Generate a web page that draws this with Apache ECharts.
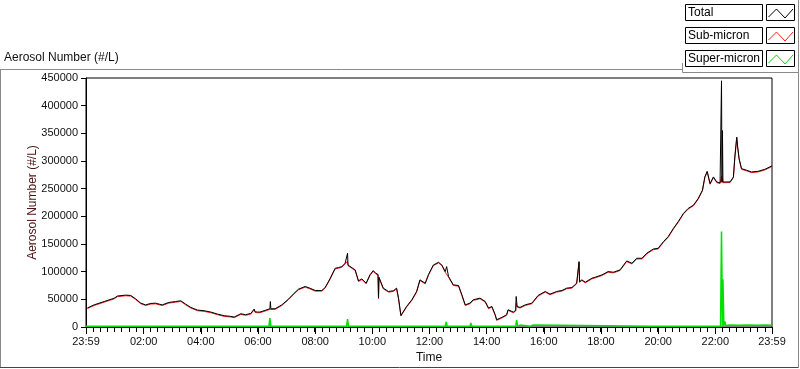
<!DOCTYPE html>
<html><head><meta charset="utf-8">
<script src="https://cdn.jsdelivr.net/npm/echarts@6/dist/echarts.min.js"></script>
<style>html,body{margin:0;padding:0;background:#fff}#c{width:800px;height:369px}</style>
</head><body><div id="c"></div>
<script>
// minutes since 23:59 (start of record)
const seriesNames = ['Total', 'Sub-micron', 'Super-micron'];
const yTicks = [0,50000,100000,150000,200000,250000,300000,350000,400000,450000];
const xMajorTicks = [0,121,241,361,481,601,721,841,961,1081,1201,1321,1440];
const xMajorLabels = ['23:59','02:00','04:00','06:00','08:00','10:00','12:00','14:00','16:00','18:00','20:00','22:00','23:59'];

const totalTime = [3,17,38,59,66,83,94,104,115,125,136,146,160,174,188,199,209,220,234,248,262,276,290,304,311,325,335,346,353,355,360,365,376,386,387,388,397,411,425,435,446,460,470,481,495,502,512,523,530,537,544,548,549,550,554,565,572,579,588,596,603,608,613,614,615,617,624,635,645,652,656,661,663,673,684,694,701,712,719,729,740,747,754,757,761,771,782,789,796,806,813,827,838,845,852,859,862,873,883,886,897,902,903,905,911,922,936,949,964,974,988,999,1009,1020,1030,1034,1035,1036,1041,1048,1062,1069,1083,1096,1107,1121,1135,1146,1156,1167,1177,1191,1201,1212,1222,1233,1243,1254,1264,1275,1285,1294,1299,1304,1310,1317,1324,1331,1333,1334,1335,1336,1337,1341,1352,1359,1362,1366,1368,1371,1376,1387,1397,1411,1425,1438,1440];
const totalVals = [34500,40000,46000,52000,56000,57600,57000,51000,43200,40000,42600,43000,40000,44400,46000,47400,41400,35400,30600,29400,27000,23400,20400,19200,18000,24000,22200,24600,32400,27500,27000,27000,30000,33000,46000,33000,33000,40000,50400,59400,68400,73200,70200,66000,66000,71400,87000,106200,107400,109200,115200,112000,133200,112000,112000,103200,83400,87000,79200,94200,102000,97200,95000,52200,90000,88200,70200,64200,65400,70200,52200,21000,22200,37200,49200,64200,85200,79200,95000,112000,117000,112000,100200,109200,91200,76200,75000,58200,40000,43200,49200,52200,46200,34200,37200,22200,13200,17400,22200,31200,27000,30000,55200,37200,35400,40000,43200,57000,64200,59400,64200,66000,70200,71400,79200,80000,118200,82000,85200,81000,88200,90000,94200,100200,99000,103200,119400,115200,124200,124200,133200,141000,142200,154200,163200,178200,190200,205200,214200,220200,232200,247200,271200,281400,259200,271200,262200,260400,262000,445000,262000,355000,262000,260400,262200,271200,307200,343200,325000,304200,286200,283200,280200,281400,285000,290400,291000];
const subVals = [33300,38800,44800,50800,54800,56400,55800,49800,42000,38800,41400,41800,38800,43200,44800,46200,40200,34200,29400,28200,25800,22200,19200,18000,16800,22800,21000,23400,31200,26300,25800,25800,28800,31800,30000,31800,31800,38800,49200,58200,67200,72000,69000,64800,64800,70200,85800,105000,106200,108000,114000,110800,118800,110800,110800,102000,82200,85800,78000,93000,100800,96000,93800,51000,88800,87000,69000,63000,64200,69000,51000,19800,21000,36000,48000,63000,84000,78000,93800,110800,115800,110800,99000,100200,90000,75000,73800,57000,38800,42000,48000,51000,45000,33000,36000,21000,12000,16200,21000,30000,25800,28800,42600,36000,34200,38800,42000,55800,63000,58200,63000,64800,69000,70200,78000,78800,117000,80800,84000,79800,87000,88800,93000,99000,97800,102000,118200,114000,123000,123000,132000,139800,141000,153000,162000,177000,189000,204000,213000,219000,231000,246000,270000,280200,258000,270000,261000,259200,260800,272200,260800,268600,260800,259200,261000,270000,306000,342000,323800,303000,285000,282000,279000,280200,283800,289200,289800];

const superTime = [0,384,386,388,523,525,527,547,549,551,553,554,555,754,756,758,806,808,810,854,855,856,863,864,865,893,894,895,902,904,906,910,911,912,933,934,935,937,938,939,1190,1191,1192,1239,1240,1241,1314,1315,1316,1332,1334,1336,1337,1339,1341,1343,1350,1370,1390,1410,1425,1440];
const superVals = [1500,1500,16200,1500,1500,5000,1500,1500,14400,1500,1500,3000,1500,1500,9000,1500,1500,7200,1500,1500,4000,1500,1500,4500,1500,1500,3000,1500,1500,12600,1500,1500,3500,1500,1500,3500,1500,1500,3500,1500,1500,3000,1500,1500,3000,1500,1500,3000,1500,1500,172800,2000,86400,2000,10000,2500,3500,3000,3500,3000,3500,3000];

const colors = ['#000000', '#ff2020', '#00e000'];

function pairs(t, v) { return t.map((x, i) => [x, v[i]]); }

const chart = echarts.init(document.getElementById('c'), null, {renderer: 'canvas'});
const font = 'Liberation Sans, Arial, sans-serif';

function legendGraphics() {
  const g = [];
  const rows = [4, 27, 50];
  seriesNames.forEach((name, i) => {
    const y = rows[i];
    g.push({type: 'rect', shape: {x: 685.5, y: y + 0.5, width: 77, height: 16}, style: {fill: '#fff', stroke: '#000', lineWidth: 1}});
    g.push({type: 'text', x: 688, y: y + 9, style: {text: name, font: '12px ' + font, fill: '#000', textVerticalAlign: 'middle'}});
    g.push({type: 'rect', shape: {x: 766.5, y: y + 0.5, width: 28, height: 16}, style: {fill: '#fff', stroke: '#000', lineWidth: 1}});
    g.push({type: 'polyline', shape: {points: [[768.5, y + 13], [776.5, y + 5], [785, y + 14], [793, y + 5]]}, style: {stroke: colors[i], lineWidth: 1, fill: null}});
  });
  return g;
}

const option = {
  animation: false,
  backgroundColor: '#fff',
  textStyle: {fontFamily: font},
  grid: {left: 86, right: 28, top: 78, bottom: 40, show: true, borderColor: '#000', borderWidth: 1, backgroundColor: '#fff'},
  xAxis: [{
    type: 'value', min: 0, max: 1440,
    name: 'Time', nameLocation: 'middle', nameGap: 25,
    nameTextStyle: {fontSize: 12, color: '#111', fontFamily: font},
    axisLine: {show: true, lineStyle: {color: '#000', width: 1}},
    axisTick: {show: true, length: 7, lineStyle: {color: '#000'}, customValues: xMajorTicks},
    axisLabel: {customValues: xMajorTicks, fontSize: 11, color: '#111', margin: 9, fontFamily: font,
      formatter: v => xMajorLabels[xMajorTicks.indexOf(v)] || ''},
    splitLine: {show: false}
  }, {
    type: 'value', min: 0, max: 1440, interval: 15, position: 'bottom', offset: 0,
    axisLine: {show: true, lineStyle: {color: '#000', width: 1}},
    axisTick: {show: true, length: 5, lineStyle: {color: '#000'}},
    axisLabel: {show: false},
    splitLine: {show: false}
  }],
  yAxis: {
    type: 'value', min: 0, max: 450000, interval: 50000,
    name: 'Aerosol Number (#/L)', nameLocation: 'middle', nameGap: 47, nameMoveOverlap: false,
    nameTextStyle: {fontSize: 12, color: '#4a1212', fontFamily: font},
    axisLine: {show: true, lineStyle: {color: '#000'}},
    axisTick: {show: true, length: 5, lineStyle: {color: '#000'}},
    axisLabel: {fontSize: 11, color: '#111', margin: 8, fontFamily: font, formatter: v => String(v)},
    splitLine: {show: false}
  },
  series: [
    {name: seriesNames[2], type: 'line', data: pairs(superTime, superVals), showSymbol: false, symbol: 'none', lineStyle: {color: colors[2], width: 1.5}, itemStyle: {color: colors[2]}, z: 2},
    {name: seriesNames[1], type: 'line', data: pairs(totalTime, subVals), showSymbol: false, symbol: 'none', lineStyle: {color: colors[1], width: 1}, itemStyle: {color: colors[1]}, z: 3},
    {name: seriesNames[0], type: 'line', data: pairs(totalTime, totalVals), showSymbol: false, symbol: 'none', lineStyle: {color: colors[0], width: 1}, itemStyle: {color: colors[0]}, z: 4}
  ],
  graphic: [
    {type: 'line', shape: {x1: 0, y1: 69.5, x2: 682.5, y2: 69.5}, style: {stroke: '#8a8a8a', lineWidth: 1}},
    {type: 'line', shape: {x1: 0.5, y1: 69.5, x2: 0.5, y2: 367.5}, style: {stroke: '#8a8a8a', lineWidth: 1}},
    {type: 'line', shape: {x1: 0, y1: 367.5, x2: 799, y2: 367.5}, style: {stroke: '#444', lineWidth: 1}},
    {type: 'line', shape: {x1: 798.5, y1: 0, x2: 798.5, y2: 368}, style: {stroke: '#8a8a8a', lineWidth: 1}},
    {type: 'line', shape: {x1: 682.5, y1: 63, x2: 682.5, y2: 72.5}, style: {stroke: '#8a8a8a', lineWidth: 1}},
    {type: 'line', shape: {x1: 682.5, y1: 72.5, x2: 798.5, y2: 72.5}, style: {stroke: '#8a8a8a', lineWidth: 1}},
    {type: 'text', x: 4, y: 58, style: {text: 'Aerosol Number (#/L)', font: '12px ' + font, fill: '#111', textVerticalAlign: 'middle'}}
  ].concat(legendGraphics())
};
chart.setOption(option);
</script>
</body></html>
